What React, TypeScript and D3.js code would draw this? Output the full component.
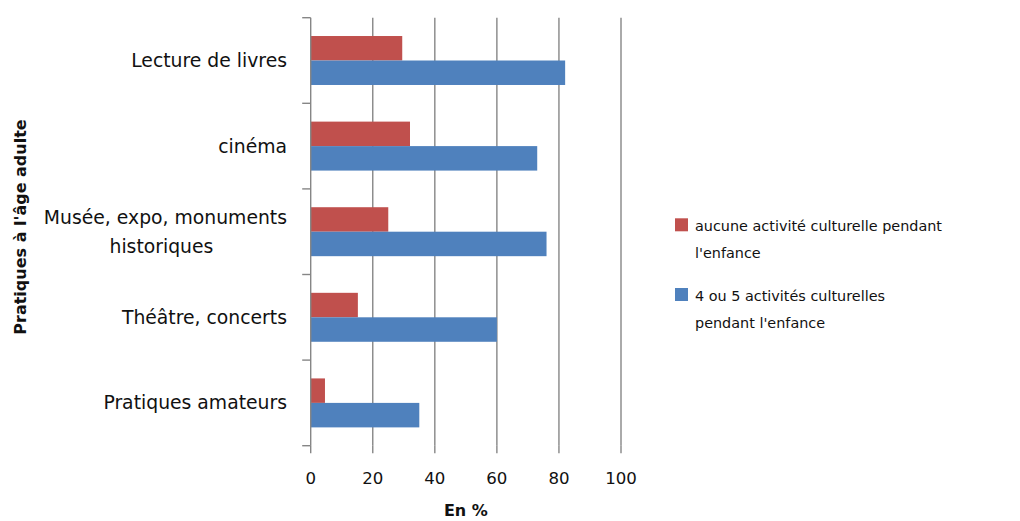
import { useEffect, useRef } from 'react'
import * as d3 from 'd3'

const categories = [
  'Lecture de livres',
  'cinéma',
  'Musée, expo, monuments|historiques',
  'Théâtre, concerts',
  'Pratiques amateurs',
]
const seriesNames = [
  'aucune activité culturelle pendant|l\'enfance',
  '4 ou 5 activités culturelles|pendant l\'enfance',
]
const noneValues = [29.5, 32, 25, 15.2, 4.6]
const fullValues = [82, 73, 76, 60, 35]
const xTicks = [0, 20, 40, 60, 80, 100]
const colors = ['#C0504D', '#4F81BD']

const width = 1020
const height = 521
const font = '"DejaVu Sans", sans-serif'
const gridColor = '#868686'

export default function App() {
  const svgRef = useRef<SVGSVGElement>(null)

  useEffect(() => {
    if (!svgRef.current) return
    document.body.style.margin = '0'
    const svg = d3.select(svgRef.current)
    svg.selectAll('*').remove()

    const left = 310.7
    const right = 621
    const top = 17.7
    const bottom = 445.7

    const x = d3.scaleLinear().domain([0, 100]).range([left, right])
    const y = d3.scaleBand<string>()
      .domain(categories)
      .range([top, bottom])
      .paddingInner(0.428)
      .paddingOuter(0.214)
    const step = y.step()
    const sub = d3.scaleBand<number>().domain([0, 1]).range([0, y.bandwidth()])

    // vertical gridlines + bottom tick marks
    const grid = svg.append('g')
    xTicks.forEach((t) => {
      if (t > 0) {
        grid.append('line')
          .attr('x1', x(t)).attr('x2', x(t))
          .attr('y1', top).attr('y2', bottom)
          .attr('stroke', gridColor).attr('stroke-width', 1.4)
      }
      grid.append('line')
        .attr('x1', x(t)).attr('x2', x(t))
        .attr('y1', bottom).attr('y2', bottom + 7.5)
        .attr('stroke', gridColor).attr('stroke-width', 1.4)
    })

    // bars
    const series = [noneValues, fullValues]
    series.forEach((vals, si) => {
      svg.append('g')
        .selectAll('rect')
        .data(categories)
        .join('rect')
        .attr('x', x(0))
        .attr('y', (d) => (y(d) ?? 0) + (sub(si) ?? 0))
        .attr('width', (_d, i) => x(vals[i]) - x(0))
        .attr('height', sub.bandwidth())
        .attr('fill', colors[si])
    })

    // y axis line and ticks
    svg.append('line')
      .attr('x1', x(0)).attr('x2', x(0))
      .attr('y1', top).attr('y2', bottom)
      .attr('stroke', gridColor).attr('stroke-width', 1.4)
    d3.range(categories.length + 1).forEach((i) => {
      const yy = top + i * step
      svg.append('line')
        .attr('x1', x(0) - 8.5).attr('x2', x(0))
        .attr('y1', yy).attr('y2', yy)
        .attr('stroke', gridColor).attr('stroke-width', 1.4)
    })

    // category labels
    const catSize = 18.8
    categories.forEach((c) => {
      const lines = c.split('|')
      const cy = (y(c) ?? 0) + y.bandwidth() / 2
      const g = svg.append('g')
      if (lines.length === 1) {
        g.append('text')
          .attr('x', 287).attr('y', cy + 6.5)
          .attr('text-anchor', 'end')
          .attr('font-family', font).attr('font-size', catSize)
          .attr('fill', '#111')
          .text(lines[0])
      } else {
        const first = g.append('text')
          .attr('x', 287).attr('y', cy - 14 + 6.5)
          .attr('text-anchor', 'end')
          .attr('font-family', font).attr('font-size', catSize)
          .attr('fill', '#111')
          .text(lines[0])
        const w = (first.node() as SVGTextElement).getComputedTextLength()
        g.append('text')
          .attr('x', 287 - w / 2 - 4).attr('y', cy + 15 + 6.5)
          .attr('text-anchor', 'middle')
          .attr('font-family', font).attr('font-size', catSize)
          .attr('fill', '#111')
          .text(lines[1])
      }
    })

    // x tick labels
    svg.append('g')
      .selectAll('text')
      .data(xTicks)
      .join('text')
      .attr('x', (d) => x(d))
      .attr('y', 484)
      .attr('text-anchor', 'middle')
      .attr('font-family', font).attr('font-size', 16.6)
      .attr('fill', '#111')
      .text((d) => String(d))

    // axis titles
    svg.append('text')
      .attr('x', (x(0) + x(100)) / 2).attr('y', 516)
      .attr('text-anchor', 'middle')
      .attr('font-family', font).attr('font-size', 16)
      .attr('font-weight', 'bold')
      .attr('fill', '#111')
      .text('En %')

    svg.append('text')
      .attr('transform', `translate(26, 227) rotate(-90)`)
      .attr('text-anchor', 'middle')
      .attr('font-family', font).attr('font-size', 16)
      .attr('font-weight', 'bold')
      .attr('fill', '#111')
      .text('Pratiques à l\'âge adulte')

    // legend
    const legendTops = [218.3, 288]
    seriesNames.forEach((name, i) => {
      const g = svg.append('g')
      g.append('rect')
        .attr('x', 675).attr('y', legendTops[i])
        .attr('width', 13).attr('height', 13)
        .attr('fill', colors[i])
      name.split('|').forEach((line, li) => {
        g.append('text')
          .attr('x', 695).attr('y', legendTops[i] + 12.5 + li * 27.5)
          .attr('font-family', font).attr('font-size', 14.4)
          .attr('fill', '#111')
          .text(line)
      })
    })
  }, [])

  return <svg ref={svgRef} width={width} height={height} style={{ display: 'block', background: '#fff' }} />
}
